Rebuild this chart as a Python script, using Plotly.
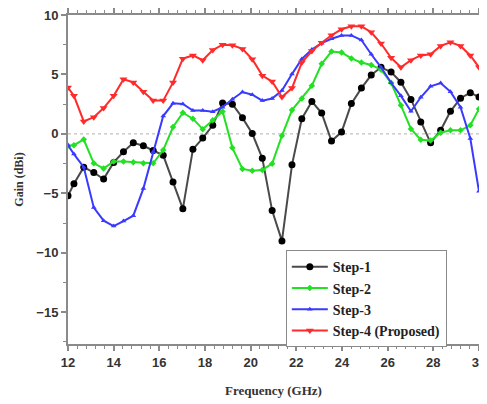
import plotly.graph_objects as go

freq = [12.00, 12.26, 12.69, 13.13, 13.56, 14.00, 14.43, 14.86, 15.30, 15.73,
        16.17, 16.60, 17.03, 17.47, 17.90, 18.34, 18.77, 19.20, 19.64, 20.07,
        20.51, 20.94, 21.37, 21.81, 22.24, 22.68, 23.11, 23.54, 23.98, 24.41,
        24.85, 25.28, 25.71, 26.15, 26.58, 27.02, 27.45, 27.88, 28.32, 28.75,
        29.19, 29.62, 30.00]

step1 = [-5.2, -4.2, -2.8, -3.25, -3.8, -2.4, -1.5, -0.75, -1.0, -1.4,
         -1.8, -4.05, -6.3, -1.3, -0.35, 0.72, 2.6, 2.5, 1.35, 0.03,
         -2.05, -6.45, -9.0, -2.6, 1.28, 2.72, 1.75, -0.6, 0.15, 2.55,
         3.85, 4.95, 5.6, 5.2, 4.35, 2.9, 1.0, -0.75, 0.3, 1.9,
         3.0, 3.47, 3.1]
step2 = [-1.0, -0.95, -0.47, -2.47, -2.9, -2.33, -2.33, -2.39, -2.47, -2.47,
         -1.36, 0.58, 1.78, 1.28, 0.4, 1.14, 1.89, -1.17, -2.95, -3.1,
         -3.03, -2.5, -0.15, 2.0, 2.97, 4.05, 5.9, 6.93, 6.85, 6.35,
         6.0, 5.8, 5.4, 4.3, 2.4, 0.42, -0.5, -0.55, 0.1, 0.3,
         0.3, 0.72, 2.1]
step3 = [-0.95, -1.7, -2.8, -6.2, -7.3, -7.75, -7.33, -6.88, -4.6, -1.5,
         1.5, 2.57, 2.52, 1.97, 1.97, 1.87, 2.25, 2.92, 3.52, 3.3,
         2.8, 2.97, 3.65, 5.03, 6.3, 7.1, 7.63, 8.0, 8.28, 8.28,
         7.9, 6.7, 5.6, 4.3, 3.2, 1.9, 3.08, 4.0, 4.28, 3.55,
         2.25, -0.39, -4.83]
step4 = [3.9, 3.2, 1.05, 1.4, 2.17, 3.2, 4.6, 4.33, 3.55, 2.8,
         2.8, 4.33, 6.33, 6.6, 6.2, 7.05, 7.5, 7.45, 7.15, 6.28,
         4.9, 4.4, 3.1, 3.85, 6.0, 6.97, 7.67, 8.3, 8.8, 9.05,
         9.05, 8.55, 7.6, 6.4, 5.6, 6.2, 6.6, 6.7, 7.4, 7.7,
         7.4, 6.6, 5.6]

names = ["Step-1", "Step-2", "Step-3", "Step-4 (Proposed)"]
x_ticks = [12, 14, 16, 18, 20, 22, 24, 26, 28, 30]
y_ticks = [-15, -10, -5, 0, 5, 10]

series = [step1, step2, step3, step4]
line_colors = ["#4a4a4a", "#22e022", "#3a3aff", "#ff2a2a"]
marker_colors = ["#000000", "#22e022", "#3a3aff", "#ff2a2a"]
symbols = ["circle", "diamond", "triangle-up", "triangle-down"]
sizes = [7, 5, 5, 7]

fig = go.Figure()
for s, n, lc, mc, sym, sz in zip(series, names, line_colors, marker_colors, symbols, sizes):
    fig.add_trace(go.Scatter(
        x=freq, y=s, name=n, mode="lines+markers",
        line=dict(color=lc, width=2),
        marker=dict(color=mc, symbol=sym, size=sz, line=dict(width=0)),
    ))

fig.add_shape(type="line", xref="paper", yref="y", x0=0, x1=1, y0=0, y1=0,
              line=dict(color="#b0b0b0", width=1, dash="dot"), layer="below")

axis_common = dict(
    showgrid=False, zeroline=False, showline=True, linecolor="#8a8a8a", linewidth=2,
    mirror="ticks", ticks="outside", ticklen=5, tickwidth=1.5, tickcolor="#8a8a8a",
    automargin=False, ticklabeloverflow="allow",
    tickfont=dict(family="Liberation Sans", size=13, color="#333333", weight="bold"),
)

fig.update_xaxes(
    range=[12, 30], tickvals=x_ticks,
    minor=dict(dtick=0.4, ticks="outside", ticklen=3, tickcolor="#8a8a8a", tickwidth=1),
    title=dict(text="<b>Frequency (GHz)</b>", font=dict(family="Liberation Serif", size=13, color="#333333"), standoff=17),
    **axis_common,
)
fig.update_yaxes(
    range=[-17.67, 10], tickvals=y_ticks,
    minor=dict(dtick=2.5, ticks="outside", ticklen=3, tickcolor="#8a8a8a", tickwidth=1),
    title=dict(text="<b>Gain (dBi)</b>", font=dict(family="Liberation Serif", size=12, color="#333333"), standoff=10),
    **axis_common,
)

fig.update_layout(
    width=479, height=396,
    margin=dict(l=60, r=8, t=7, b=60),
    plot_bgcolor="white", paper_bgcolor="white",
    legend=dict(
        x=0.53, y=0.285, xanchor="left", yanchor="top",
        bordercolor="#8a8a8a", borderwidth=1, bgcolor="white",
        font=dict(family="Liberation Serif", size=14, color="#222222", weight="bold"),
        tracegroupgap=0, itemwidth=36,
    ),
)

fig.write_html("out.html")
